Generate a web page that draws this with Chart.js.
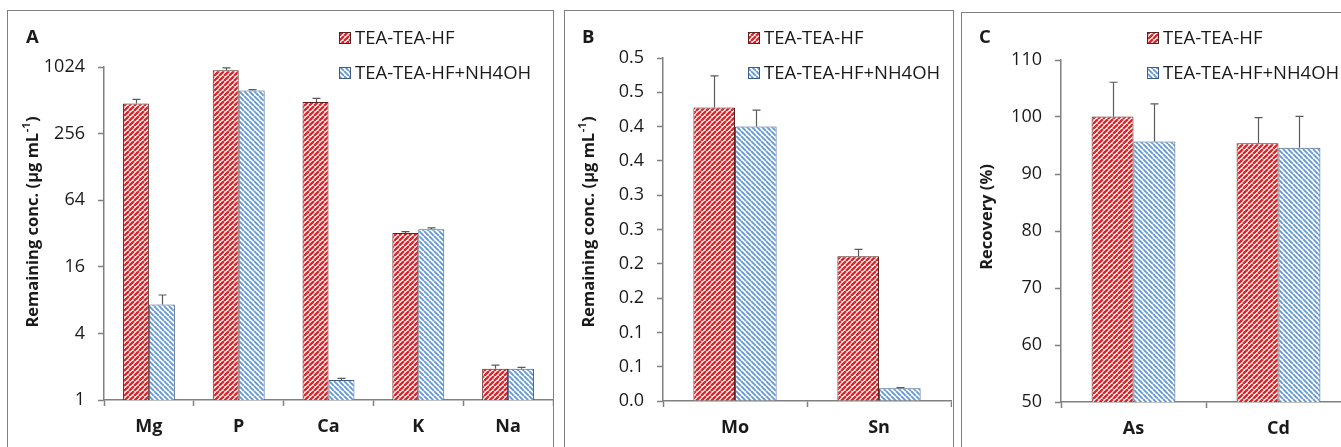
<!DOCTYPE html>
<html>
<head>
<meta charset="utf-8">
<script src="https://cdn.jsdelivr.net/npm/chart.js@4.4.1/dist/chart.umd.min.js"></script>
<style>
html, body { margin: 0; padding: 0; background: #fff; width: 1341px; height: 447px; overflow: hidden; }
.frame { position: absolute; border: 1.5px solid #7f7f7f; box-sizing: border-box; pointer-events: none; z-index: 2; }
.box { position: absolute; }
</style>
</head>
<body>
<div class="frame" style="left:7px;top:10px;width:547px;height:480px"></div>
<div class="frame" style="left:564px;top:10px;width:390px;height:480px"></div>
<div class="frame" style="left:961px;top:12px;width:420px;height:480px"></div>

<div class="box" style="left:9px;top:11px;width:545px;height:436px"><canvas id="chartA"></canvas></div>
<div class="box" style="left:566px;top:11px;width:386px;height:436px"><canvas id="chartB"></canvas></div>
<div class="box" style="left:963px;top:14px;width:400px;height:433px"><canvas id="chartC"></canvas></div>

<script>
// Series names (legend)
const seriesNames = ['TEA-TEA-HF', 'TEA-TEA-HF+NH4OH'];

// Panel A - matrix elements, log2 axis
const elementsA = ['Mg', 'P', 'Ca', 'K', 'Na'];
const hfA = [480, 955, 495, 32.3, 1.92];
const hfErrA = [42, 50, 38, 1.0, 0.15];
const nh4A = [7.3, 627, 1.52, 35, 1.92];
const nh4ErrA = [1.6, 12, 0.05, 1.0, 0.05];
const ticksA = [1, 4, 16, 64, 256, 1024];

// Panel B - Mo / Sn
const elementsB = ['Mo', 'Sn'];
const hfB = [0.428, 0.211];
const hfErrB = [0.046, 0.010];
const nh4B = [0.400, 0.0185];
const nh4ErrB = [0.024, 0.001];
const ticksB = [0, 0.05, 0.1, 0.15, 0.2, 0.25, 0.3, 0.35, 0.4, 0.45, 0.5];
const tickLabelsB = ['0.0', '0.1', '0.1', '0.2', '0.2', '0.3', '0.3', '0.4', '0.4', '0.5', '0.5'];

// Panel C - recovery
const elementsC = ['As', 'Cd'];
const hfC = [100.1, 95.4];
const hfErrC = [6.0, 4.5];
const nh4C = [95.7, 94.6];
const nh4ErrC = [6.6, 5.5];
const ticksC = [50, 60, 70, 80, 90, 100, 110];

const FONT = '"Open Sans", "DejaVu Sans", sans-serif';
const TEXT = '#1a1a1a';
const AXIS = '#808080';

// hatch patterns like the excel fills
function makeHatch(color, width, upward) {
  const p = 5;
  const c = document.createElement('canvas');
  c.width = p;
  c.height = p;
  const g = c.getContext('2d');
  g.fillStyle = '#fff';
  g.fillRect(0, 0, p, p);
  g.strokeStyle = color;
  g.lineWidth = width;
  g.beginPath();
  for (let k = -1; k <= 1; k++) {
    if (upward) {
      g.moveTo(k * p, p);
      g.lineTo(k * p + p, 0);
    } else {
      g.moveTo(k * p, 0);
      g.lineTo(k * p + p, p);
    }
  }
  g.stroke();
  return g.createPattern(c, 'repeat');
}

const redHatch = makeHatch('#d9262a', 2.3, true);
const blueHatch = makeHatch('#6399d6', 1.9, false);

// error bars, panel letter, legend and y title
const panelDecor = {
  id: 'panelDecor',
  afterDatasetsDraw(chart) {
    const ctx = chart.ctx;
    const yScale = chart.scales.y;
    ctx.save();
    ctx.strokeStyle = '#5a5a5a';
    ctx.lineWidth = 1.2;
    chart.data.datasets.forEach((ds, i) => {
      chart.getDatasetMeta(i).data.forEach((bar, j) => {
        const yTop = yScale.getPixelForValue(ds.data[j] + ds.errors[j]);
        const x = Math.round(bar.x) + 0.5;
        ctx.beginPath();
        ctx.moveTo(x, bar.y);
        ctx.lineTo(x, yTop);
        ctx.moveTo(x - 4, yTop);
        ctx.lineTo(x + 4, yTop);
        ctx.stroke();
      });
    });
    ctx.restore();
  },
  afterDraw(chart, args, opts) {
    const ctx = chart.ctx;
    ctx.save();
    ctx.textBaseline = 'middle';
    ctx.fillStyle = TEXT;
    ctx.font = 'bold 18.5px ' + FONT;
    ctx.fillText(opts.letter, opts.letterX, opts.letterY);

    // legend
    ctx.font = '18.5px ' + FONT;
    chart.data.datasets.forEach((ds, i) => {
      const y = opts.legendY[i];
      ctx.fillStyle = ds.backgroundColor;
      ctx.fillRect(opts.legendX, y - 6, 12, 12);
      ctx.strokeStyle = ds.borderColor;
      ctx.lineWidth = 1;
      ctx.strokeRect(opts.legendX + 0.5, y - 5.5, 11, 11);
      ctx.fillStyle = TEXT;
      ctx.fillText(ds.label, opts.legendX + 16, y + 1);
    });

    // rotated y title with superscript
    const t = opts.title;
    const mainFont = 'bold 16.5px ' + FONT;
    const supFont = 'bold 11px ' + FONT;
    ctx.font = mainFont;
    const w1 = ctx.measureText(t.main).width;
    const w3 = ctx.measureText(t.tail).width;
    ctx.font = supFont;
    const w2 = t.sup ? ctx.measureText(t.sup).width + 1 : 0;
    const total = w1 + w2 + w3;
    ctx.translate(opts.titleX, opts.titleY);
    ctx.rotate(-Math.PI / 2);
    ctx.fillStyle = TEXT;
    let x = -total / 2;
    ctx.font = mainFont;
    ctx.fillText(t.main, x, 0);
    x += w1;
    if (t.sup) {
      ctx.font = supFont;
      ctx.fillText(t.sup, x + 0.5, -6);
      x += w2;
    }
    ctx.font = mainFont;
    ctx.fillText(t.tail, x, 0);
    ctx.restore();
  }
};

function buildChart(id, cfg) {
  return new Chart(document.getElementById(id), {
    type: 'bar',
    data: {
      labels: cfg.labels,
      datasets: [
        { label: seriesNames[0], data: cfg.hf, errors: cfg.hfErr, backgroundColor: redHatch, borderColor: '#5c2222', borderWidth: 1 },
        { label: seriesNames[1], data: cfg.nh4, errors: cfg.nh4Err, backgroundColor: blueHatch, borderColor: '#3e5c86', borderWidth: 1 }
      ]
    },
    options: {
      responsive: true,
      maintainAspectRatio: false,
      animation: false,
      layout: { padding: cfg.padding },
      datasets: { bar: { categoryPercentage: 0.578, barPercentage: 1 } },
      plugins: {
        legend: { display: false },
        tooltip: { enabled: false },
        panelDecor: cfg.decor
      },
      scales: {
        x: {
          grid: { drawOnChartArea: false, offset: true, tickLength: 6, tickColor: AXIS, tickWidth: 1.5 },
          border: { color: AXIS, width: 1.5 },
          ticks: { font: { family: FONT, size: 18, weight: 'bold' }, color: TEXT, padding: 10 },
          afterFit: s => { s.height = cfg.xHeight; }
        },
        y: Object.assign({
          grid: { drawOnChartArea: false, tickLength: 6, tickColor: AXIS, tickWidth: 1.5 },
          border: { color: AXIS, width: 1.5 },
          afterFit: s => { s.width = cfg.yWidth; }
        }, cfg.y)
      }
    },
    plugins: [panelDecor]
  });
}

const tickFont = { family: FONT, size: 18 };

buildChart('chartA', {
  labels: elementsA, hf: hfA, hfErr: hfErrA, nh4: nh4A, nh4Err: nh4ErrA,
  padding: { top: 56, right: 1, left: 0, bottom: 0 },
  xHeight: 47, yWidth: 95,
  y: {
    type: 'logarithmic', min: 1, max: 1024,
    afterBuildTicks: s => { s.ticks = ticksA.map(v => ({ value: v })); },
    ticks: { font: tickFont, color: TEXT, padding: 13, callback: v => String(v) }
  },
  decor: {
    letter: 'A', letterX: 17, letterY: 27,
    legendX: 330, legendY: [27, 62],
    title: { main: 'Remaining conc. (µg mL', sup: '-1', tail: ')' },
    titleX: 24, titleY: 211
  }
});

buildChart('chartB', {
  labels: elementsB, hf: hfB, hfErr: hfErrB, nh4: nh4B, nh4Err: nh4ErrB,
  padding: { top: 47, right: 1, left: 0, bottom: 0 },
  xHeight: 46, yWidth: 97,
  y: {
    min: 0, max: 0.5,
    afterBuildTicks: s => { s.ticks = ticksB.map(v => ({ value: v })); },
    ticks: { font: tickFont, color: TEXT, padding: 13, callback: (v, i) => tickLabelsB[i] }
  },
  decor: {
    letter: 'B', letterX: 16, letterY: 27,
    legendX: 182, legendY: [27, 62],
    title: { main: 'Remaining conc. (µg mL', sup: '-1', tail: ')' },
    titleX: 23, titleY: 211
  }
});

buildChart('chartC', {
  labels: elementsC, hf: hfC, hfErr: hfErrC, nh4: nh4C, nh4Err: nh4ErrC,
  padding: { top: 46, right: 12, left: 0, bottom: 0 },
  xHeight: 45, yWidth: 98,
  y: {
    min: 50, max: 110,
    afterBuildTicks: s => { s.ticks = ticksC.map(v => ({ value: v })); },
    ticks: { font: tickFont, color: TEXT, padding: 13, callback: v => String(v) }
  },
  decor: {
    letter: 'C', letterX: 16, letterY: 24,
    legendX: 184, legendY: [24, 59],
    title: { main: 'Recovery (%)', sup: '', tail: '' },
    titleX: 24, titleY: 203
  }
});
</script>
</body>
</html>
